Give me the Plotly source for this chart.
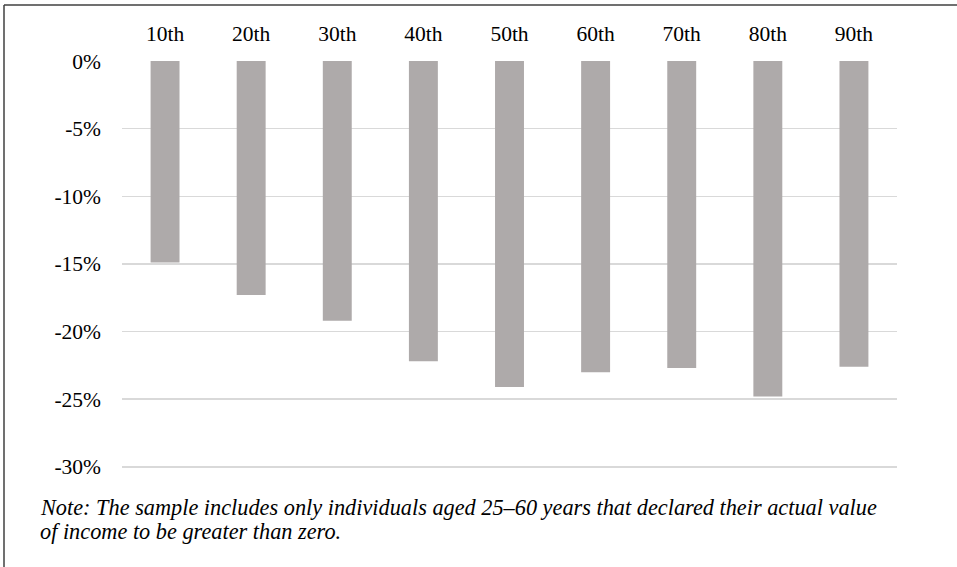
import plotly.graph_objects as go

categories = ["10th", "20th", "30th", "40th", "50th", "60th", "70th", "80th", "90th"]
values = [-14.9, -17.3, -19.2, -22.2, -24.1, -23.0, -22.7, -24.8, -22.6]
y_ticks = [0, -5, -10, -15, -20, -25, -30]
y_tick_labels = ["0%", "-5%", "-10%", "-15%", "-20%", "-25%", "-30%"]
note_lines = [
    "Note: The sample includes only individuals aged 25–60 years that declared their actual value",
    "of income to be greater than zero.",
]

FONT = "Liberation Serif"
TICK_SIZE = 21.5
NOTE_SIZE = 22.3

fig = go.Figure(go.Bar(x=categories, y=values, marker=dict(color="#AEAAAA", line=dict(width=0))))

W, H = 957, 567
px_per = 406 / 30.0
y_min = -30.6
L, R, T = 122, 60, 61
ph = -y_min * px_per
B = H - T - ph
pw = W - L - R
y_bottom_px = T + ph  # pixel of paper y=0


def py(pix):
    return (y_bottom_px - pix) / ph


def px(pix):
    return (pix - L) / pw


annotations = []
for i, line in enumerate(note_lines):
    annotations.append(dict(
        text=line, xref="paper", yref="paper",
        x=px(38), y=py(508 + 24 * i),
        xanchor="left", yanchor="middle", align="left", showarrow=False,
        font=dict(family=FONT, size=NOTE_SIZE, color="#000000", style="italic")))

fig.update_layout(
    width=W, height=H,
    margin=dict(l=L, r=R, t=T, b=B, pad=0, autoexpand=False),
    paper_bgcolor="white", plot_bgcolor="white",
    font=dict(family=FONT, size=TICK_SIZE, color="#000000"),
    bargap=0.664,
    showlegend=False,
    xaxis=dict(side="top", showgrid=False, zeroline=False, showline=False, ticks="",
               automargin=False, ticklabelstandoff=15,
               tickfont=dict(family=FONT, size=TICK_SIZE, color="#000000")),
    yaxis=dict(range=[y_min, 0], tickvals=y_ticks, ticktext=y_tick_labels,
               showgrid=True, gridcolor="#D9D9D9", gridwidth=1.5, zeroline=False,
               showline=False, ticks="", automargin=False, ticklabelstandoff=20,
               tickfont=dict(family=FONT, size=TICK_SIZE, color="#000000")),
    annotations=annotations,
    shapes=[
        dict(type="line", xref="paper", yref="paper",
             x0=px(4), x1=px(W + 10), y0=py(5), y1=py(5),
             line=dict(color="#404040", width=1.5)),
        dict(type="line", xref="paper", yref="paper",
             x0=px(4), x1=px(4), y0=py(5), y1=py(H + 10),
             line=dict(color="#404040", width=1.5)),
    ],
)

fig.write_html("out.html", config={"displayModeBar": False, "staticPlot": True},
               post_script="document.body.style.margin='0';")
